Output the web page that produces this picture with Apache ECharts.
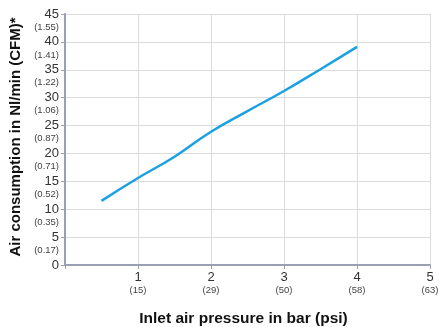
<!DOCTYPE html>
<html>
<head>
<meta charset="utf-8">
<script src="https://cdn.jsdelivr.net/npm/echarts@6/dist/echarts.min.js"></script>
<style>
  html, body { margin: 0; padding: 0; background: #fff; }
  #chart { width: 439px; height: 327px; }
</style>
</head>
<body>
<div id="chart"></div>
<script>
// 数据
var pressureBar = [0.5, 1, 1.5, 2, 2.5, 3, 3.5, 4]
var airNlMin = [11.5, 15.6, 19.4, 23.9, 27.6, 31.2, 35.1, 39.1]
var psiLabels = { 1: '(15)', 2: '(29)', 3: '(50)', 4: '(58)', 5: '(63)' }
var cfmLabels = { 5: '(0.17)', 10: '(0.35)', 15: '(0.52)', 20: '(0.71)', 25: '(0.87)', 30: '(1.06)', 35: '(1.22)', 40: '(1.41)', 45: '(1.55)' }

var myChart = echarts.init(document.getElementById('chart'))
var font = 'Arial, "Liberation Sans", sans-serif'
var axisColor = '#9aa0b2'

var option = {
  animation: false,
  grid: { left: 65, right: 9, top: 14, bottom: 62, outerBoundsMode: 'none' },
  xAxis: {
    type: 'value',
    min: 0,
    max: 5,
    interval: 1,
    name: 'Inlet air pressure in bar (psi)',
    nameLocation: 'middle',
    nameGap: 46,
    nameTextStyle: { fontFamily: font, fontSize: 15.5, fontWeight: 'bold', color: '#111', padding: [0, 8, 0, 0] },
    axisLine: { lineStyle: { color: axisColor, width: 2 } },
    axisTick: { show: true, length: 4, lineStyle: { color: axisColor } },
    splitLine: { show: true, lineStyle: { color: '#dcdcdc' } },
    axisLabel: {
      margin: 6,
      showMaxLabel: true,
      hideOverlap: false,
      formatter: function (v) {
        if (v === 0) return ''
        return '{a|' + v + '}\n{b|' + psiLabels[v] + '}'
      },
      rich: {
        a: { fontFamily: font, fontSize: 13, color: '#333', lineHeight: 13 },
        b: { fontFamily: font, fontSize: 9.5, color: '#444', lineHeight: 12 }
      }
    }
  },
  yAxis: [
    {
      // 数值 Nl/min
      type: 'value',
      position: 'left',
      min: 0,
      max: 45,
      interval: 5,
      name: 'Air consumption in Nl/min (CFM)*',
      nameLocation: 'middle',
      nameGap: 42,
      nameTextStyle: { fontFamily: font, fontSize: 15, fontWeight: 'bold', color: '#111', padding: [0, 0, 0, 5] },
      axisLine: { show: true, lineStyle: { color: axisColor, width: 2 } },
      axisTick: { show: true, length: 4, lineStyle: { color: axisColor } },
      splitLine: { show: true, lineStyle: { color: '#dcdcdc' } },
      axisLabel: {
        margin: 6,
        showMaxLabel: true,
        fontFamily: font,
        fontSize: 13,
        color: '#333'
      }
    },
    {
      // 括号里的 CFM
      type: 'value',
      position: 'left',
      min: 0,
      max: 45,
      interval: 5,
      axisLine: { show: false },
      axisTick: { show: false },
      splitLine: { show: false },
      axisLabel: {
        margin: 6,
        showMaxLabel: true,
        verticalAlign: 'top',
        padding: [7, 0, 0, 0],
        fontFamily: font,
        fontSize: 9.5,
        lineHeight: 12,
        color: '#444',
        formatter: function (v) {
          return cfmLabels[v] || ''
        }
      }
    }
  ],
  series: [
    {
      type: 'line',
      smooth: true,
      showSymbol: false,
      yAxisIndex: 0,
      lineStyle: { color: '#1ba1e2', width: 2.5 },
      data: pressureBar.map(function (x, i) { return [x, airNlMin[i]] })
    }
  ]
}

myChart.setOption(option)
</script>
</body>
</html>
